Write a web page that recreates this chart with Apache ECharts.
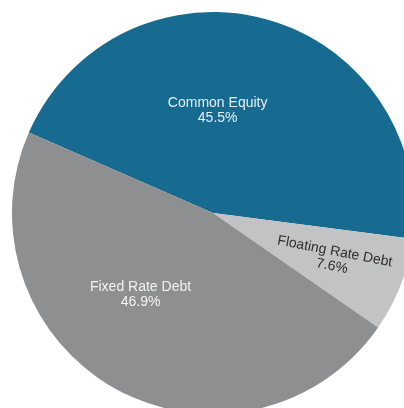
<!DOCTYPE html>
<html>
<head>
<meta charset="utf-8">
<style>
  html, body { margin: 0; padding: 0; background: #fff; }
  #chart { width: 404px; height: 408px; }
</style>
<script src="https://cdn.jsdelivr.net/npm/echarts@6/dist/echarts.min.js"></script>
</head>
<body>
<div id="chart"></div>
<script>
const names = ['Common Equity', 'Floating Rate Debt', 'Fixed Rate Debt']
const values = [45.5, 7.6, 46.9]
const colors = ['#176b91', '#c2c3c5', '#8e8f91']
const textColors = ['#e6eef3', '#2e2e2e', '#f2f2f2']
const rotations = [0, -11, 0]
// nudge labels to where the original puts them
const shiftX = [-23, 25, -22]
const shiftY = [-3, 4, -9]

const dataOptions = []
values.forEach((v, i) => {
  dataOptions.push({
    name: names[i],
    value: v,
    itemStyle: { color: colors[i] },
    label: { color: textColors[i], rotate: rotations[i] }
  })
})

const chart = echarts.init(document.getElementById('chart'))
chart.setOption({
  animation: false,
  series: [
    {
      type: 'pie',
      center: [213, 213],
      radius: 201,
      startAngle: 156.4,
      clockwise: true,
      data: dataOptions,
      itemStyle: { borderWidth: 0 },
      emphasis: { disabled: true },
      label: {
        show: true,
        position: 'inside',
        fontFamily: 'Liberation Sans, Arial, sans-serif',
        fontSize: 14,
        lineHeight: 15,
        align: 'center',
        formatter: p => p.name + '\n' + p.value.toFixed(1) + '%'
      },
      labelLine: { show: false },
      labelLayout: p => ({ dx: shiftX[p.dataIndex], dy: shiftY[p.dataIndex] })
    }
  ]
})
</script>
</body>
</html>
